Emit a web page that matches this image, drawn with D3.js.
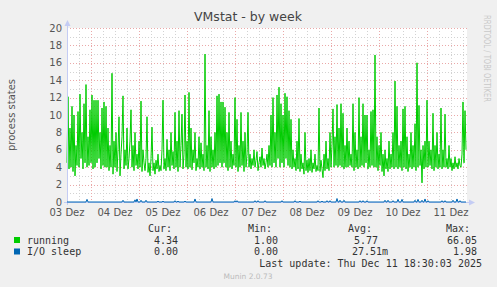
<!DOCTYPE html>
<html>
<head>
<meta charset="utf-8">
<script src="https://cdn.jsdelivr.net/npm/d3@7"></script>
<style>
  body { margin: 0; background: #f0f0f0; }
  svg { display: block; }
</style>
</head>
<body>
<svg id="chart"></svg>
<script>
// half-hourly samples starting 03 Dez 12:00 (UTC)
const running = [
  4.5, 12.1, 3.8, 8.5, 4.0, 11.0, 3.5, 10.0, 3.0, 6.5, 4.2, 10.4, 4.0, 12.4, 5.0, 8.0, 3.8, 11.3, 4.5, 13.5,
  4.0, 7.5, 4.2, 10.6, 4.5, 12.3, 3.8, 11.7, 4.0, 11.7, 4.5, 11.7, 5.0, 8.0, 3.8, 10.8, 4.2, 11.5, 4.0, 11.0,
  4.0, 8.5, 3.6, 6.5, 4.0, 14.8, 3.2, 7.0, 4.0, 8.0, 3.5, 6.0, 9.8, 3.0, 5.5, 7.5, 12.2, 3.8, 6.0, 4.2,
  8.5, 3.8, 5.0, 7.0, 10.6, 4.0, 6.5, 3.6, 8.0, 4.2, 5.5, 3.8, 7.0, 4.0, 11.6, 3.5, 6.0, 4.5, 3.6, 5.0,
  9.8, 3.4, 4.5, 3.0, 5.0, 8.6, 3.6, 4.5, 3.2, 4.8, 3.8, 5.5, 3.5, 4.2, 3.6, 6.0, 11.7, 3.8, 5.0, 3.6,
  7.2, 4.0, 6.0, 3.6, 8.0, 4.2, 5.8, 3.8, 10.3, 4.0, 7.0, 3.5, 10.5, 4.0, 6.5, 10.1, 3.8, 5.5, 12.3, 4.0,
  7.0, 3.8, 12.6, 4.0, 8.5, 3.7, 6.0, 4.5, 8.0, 3.6, 5.0, 4.0, 7.5, 3.8, 6.8, 4.0, 5.5, 3.6, 17.0, 4.0,
  6.5, 3.8, 10.5, 3.5, 7.5, 4.0, 6.0, 3.8, 8.0, 4.0, 12.2, 4.2, 12.4, 4.5, 11.5, 4.0, 11.5, 4.5, 10.9, 4.0,
  8.0, 3.6, 10.3, 4.0, 7.0, 3.8, 5.5, 4.2, 12.0, 4.0, 9.5, 3.5, 6.5, 4.0, 10.3, 4.2, 7.0, 3.5, 8.0, 4.0,
  5.5, 10.3, 4.0, 5.5, 3.8, 5.0, 4.2, 6.0, 4.0, 4.8, 5.8, 3.6, 4.5, 5.2, 4.0, 6.2, 4.2, 5.0, 3.8, 4.5,
  5.5, 4.0, 6.5, 4.2, 10.0, 4.0, 12.0, 4.5, 8.0, 4.0, 12.3, 5.0, 13.2, 4.0, 11.3, 4.5, 10.0, 4.0, 12.5, 5.0,
  12.1, 4.2, 10.5, 4.0, 9.5, 3.8, 6.0, 4.0, 5.0, 3.6, 7.0, 3.8, 9.6, 3.5, 5.5, 3.8, 4.5, 3.2, 8.0, 3.6,
  4.8, 3.4, 5.0, 3.6, 6.0, 3.4, 4.5, 3.8, 5.5, 3.5, 4.2, 3.6, 10.8, 3.5, 4.8, 3.8, 2.8, 5.5, 3.6, 7.0,
  3.8, 5.0, 3.6, 8.0, 4.0, 6.5, 10.7, 4.0, 7.5, 4.2, 11.2, 4.0, 8.5, 4.2, 11.3, 4.0, 10.2, 3.8, 6.5, 4.0,
  8.5, 4.0, 7.0, 4.2, 5.5, 4.0, 11.3, 3.6, 8.0, 4.0, 6.0, 3.8, 12.0, 4.0, 7.5, 4.2, 11.3, 4.0, 10.0, 4.5,
  10.0, 3.8, 6.0, 4.0, 10.4, 4.2, 10.6, 4.0, 16.9, 4.0, 7.5, 3.6, 6.5, 4.2, 8.0, 3.5, 5.5, 3.0, 6.0, 3.8,
  5.0, 3.5, 7.0, 3.8, 5.5, 4.0, 8.0, 3.8, 13.9, 4.0, 11.0, 3.8, 6.5, 4.0, 7.0, 3.6, 10.7, 4.0, 11.0, 3.8,
  7.5, 3.5, 5.5, 4.0, 8.0, 3.8, 6.5, 4.0, 9.0, 3.6, 16.0, 4.0, 11.1, 4.2, 6.0, 2.2, 6.5, 3.8, 7.0, 4.0,
  11.7, 4.0, 7.0, 4.2, 6.0, 3.8, 10.2, 3.6, 6.5, 4.0, 8.0, 3.8, 5.5, 4.0, 10.8, 3.8, 6.0, 4.0, 10.1, 4.0,
  5.0, 3.8, 6.5, 4.0, 5.0, 3.6, 4.5, 3.8, 5.2, 4.0, 4.5, 3.8, 5.0, 4.2, 4.0, 5.5, 11.5, 4.5, 10.5, 6.0
];

const ioSleep = [
  0, 0, 0, 0, 0, 0, 0, 0, 0, 0, 0, 0, 0, 0, 0, 0, 0, 0, 0, 0,
  0.3, 0, 0, 0, 0, 0, 0, 0, 0, 0, 0, 0, 0, 0, 0, 0, 0, 0, 0, 0,
  0, 0, 0, 0, 0, 0, 0, 0, 0, 0, 0, 0, 0, 0, 0, 0, 0.2, 0, 0, 0,
  0, 0, 0, 0, 0, 0, 0, 0, 0.25, 0, 0.35, 0, 0, 0, 0.2, 0, 0, 0, 0, 0.2,
  0, 0, 0, 0, 0, 0, 0, 0, 0, 0, 0, 0.1, 0, 0, 0, 0, 0.1, 0, 0, 0,
  0, 0, 0, 0, 0, 0, 0, 0, 0.15, 0, 0, 0.1, 0, 0, 0, 0, 0, 0, 0.1, 0,
  0, 0, 0, 0, 0, 0, 0, 0, 0.35, 0, 0, 0, 0, 0, 0, 0, 0, 0, 0, 0,
  0, 0, 0, 0, 0, 0.4, 0, 0, 0, 0, 0, 0, 0, 0, 0, 0, 0, 0, 0, 0,
  0, 0, 0, 0, 0, 0, 0, 0, 0.15, 0, 0.15, 0, 0, 0, 0, 0, 0, 0, 0, 0,
  0, 0, 0, 0, 0, 0, 0, 0, 0.15, 0, 0, 0.15, 0, 0, 0, 0, 0, 0, 0.15, 0,
  0, 0, 0, 0, 0, 0, 0, 0, 0, 0, 0, 0, 0, 0, 0, 0.15, 0, 0, 0, 0,
  0, 0, 0, 0, 0, 0, 0, 0, 0.15, 0, 0, 0, 0, 0.1, 0, 0, 0, 0, 0, 0,
  0, 0, 0, 0, 0, 0, 0, 0, 0, 0, 0, 0.15, 0, 0, 0, 0.1, 0, 0, 0, 0,
  0.15, 0, 0, 0.15, 0, 0, 0, 0, 0, 0, 0.4, 0, 0, 0.2, 0, 0, 0, 0.2, 0, 0,
  0, 0, 0, 0, 0, 0, 0, 0, 0, 0, 0, 0, 0, 0.15, 0, 0, 0.15, 0, 0, 0,
  0.15, 0, 0, 0, 0, 0, 0, 0, 0, 0, 0, 0, 0, 0, 0, 0, 0, 0, 0.2, 0,
  0, 0.2, 0, 0, 0, 0, 0.15, 0, 0, 0, 0, 0.3, 0, 0, 0, 0.3, 0, 0, 0, 0,
  0, 0, 0, 0, 0, 0, 0, 0, 0.2, 0, 0, 0.3, 0, 0, 0, 0.2, 0, 0, 0.35, 0,
  0, 0.15, 0, 0, 0, 0, 0, 0, 0, 0, 0, 0, 0, 0, 0, 0.15, 0, 0, 0.15, 0,
  0, 0, 0, 0, 0, 0, 0.2, 0, 0, 0, 0.35, 0, 0, 0.15, 0, 0, 0, 0, 0, 0
];

const dayLabels = ["03 Dez", "04 Dez", "05 Dez", "06 Dez", "07 Dez", "08 Dez", "09 Dez", "10 Dez", "11 Dez"];
const yTicks = [0, 2, 4, 6, 8, 10, 12, 14, 16, 18, 20];

const seriesNames = ["running", "I/O sleep"];
const seriesColors = ["#00cc00", "#0066b3"];
const curValues = ["4.34", "0.00"];
const minValues = ["1.00", "0.00"];
const avgValues = ["5.77", "27.51m"];
const maxValues = ["66.05", "1.98"];

const step = 30 * 60 * 1000;
const startTime = Date.UTC(2025, 11, 3, 12);
const endTime = startTime + 400 * step;

const dimensions = {
    width: 497,
    height: 287,
    margin: { top: 28, right: 30, bottom: 85, left: 67 }
};
const plotW = 400;
const plotBottom = 202;

var svg = d3.select("#chart")
    .attr("width", dimensions.width)
    .attr("height", dimensions.height)
    .style("font-family", "'DejaVu Sans', sans-serif");

svg.append("rect")
    .attr("width", dimensions.width)
    .attr("height", dimensions.height)
    .attr("fill", "#f0f0f0");

var xScale = d3.scaleUtc()
    .domain([startTime, endTime])
    .range([dimensions.margin.left, dimensions.margin.left + plotW]);

var yScale = d3.scaleLinear()
    .domain([0, 20])
    .range([plotBottom, dimensions.margin.top]);

// plot canvas
svg.append("rect")
    .attr("x", dimensions.margin.left)
    .attr("y", dimensions.margin.top)
    .attr("width", plotW)
    .attr("height", plotBottom - dimensions.margin.top)
    .attr("fill", "#ffffff");

// grid
const grid = svg.append("g").attr("shape-rendering", "crispEdges");
const minorX = d3.utcHour.every(6).range(new Date(startTime), new Date(endTime));
const majorX = d3.utcDay.range(new Date(startTime), new Date(endTime));
const minorColor = "#d2d2d2";
const majorColor = "#eaa8a8";

grid.selectAll(".vminor")
    .data(minorX.filter(t => t.getUTCHours() !== 0))
    .enter().append("line")
    .attr("x1", d => Math.round(xScale(d)) + 0.5)
    .attr("x2", d => Math.round(xScale(d)) + 0.5)
    .attr("y1", dimensions.margin.top)
    .attr("y2", plotBottom)
    .attr("stroke", minorColor)
    .attr("stroke-dasharray", "1,2");

grid.selectAll(".hminor")
    .data(d3.range(1, 20, 2))
    .enter().append("line")
    .attr("x1", dimensions.margin.left)
    .attr("x2", dimensions.margin.left + plotW)
    .attr("y1", d => Math.round(yScale(d)) + 0.5)
    .attr("y2", d => Math.round(yScale(d)) + 0.5)
    .attr("stroke", minorColor)
    .attr("stroke-dasharray", "1,2");

grid.selectAll(".vmajor")
    .data(majorX)
    .enter().append("line")
    .attr("x1", d => Math.round(xScale(d)) + 0.5)
    .attr("x2", d => Math.round(xScale(d)) + 0.5)
    .attr("y1", dimensions.margin.top)
    .attr("y2", plotBottom)
    .attr("stroke", majorColor)
    .attr("stroke-dasharray", "1,2");

grid.selectAll(".hmajor")
    .data(yTicks.slice(1))
    .enter().append("line")
    .attr("x1", dimensions.margin.left)
    .attr("x2", dimensions.margin.left + plotW)
    .attr("y1", d => Math.round(yScale(d)) + 0.5)
    .attr("y2", d => Math.round(yScale(d)) + 0.5)
    .attr("stroke", majorColor)
    .attr("stroke-dasharray", "1,2");

// y tick labels
svg.append("g")
    .selectAll("text")
    .data(yTicks)
    .enter().append("text")
    .attr("x", 62)
    .attr("y", d => yScale(d) + 3.5)
    .attr("text-anchor", "end")
    .attr("font-size", "10px")
    .attr("fill", "#555")
    .text(d => d);

// x tick labels, centred on noon
svg.append("g")
    .selectAll("text")
    .data(dayLabels)
    .enter().append("text")
    .attr("x", (d, i) => xScale(Date.UTC(2025, 11, 3 + i, 12)))
    .attr("y", 216)
    .attr("text-anchor", "middle")
    .attr("font-size", "10px")
    .attr("fill", "#555")
    .text(d => d);

// lines
var line = d3.line()
    .x((d, i) => xScale(startTime + i * step))
    .y(d => yScale(d));

svg.append("path")
    .datum(running)
    .attr("d", line)
    .attr("fill", "none")
    .attr("stroke", seriesColors[0])
    .attr("stroke-width", 1);

// axes with arrows
const axisColor = "#c4ccf4";
svg.append("line")
    .attr("x1", dimensions.margin.left + 0.5).attr("x2", dimensions.margin.left + 0.5)
    .attr("y1", plotBottom + 3).attr("y2", 24)
    .attr("stroke", axisColor);
svg.append("path")
    .attr("d", `M${dimensions.margin.left - 2.5},26 L${dimensions.margin.left + 3.5},26 L${dimensions.margin.left + 0.5},20 Z`)
    .attr("fill", axisColor);
svg.append("line")
    .attr("x1", dimensions.margin.left - 3).attr("x2", dimensions.margin.left + plotW + 3)
    .attr("y1", plotBottom + 0.5).attr("y2", plotBottom + 0.5)
    .attr("stroke", axisColor);
svg.append("path")
    .attr("d", `M${dimensions.margin.left + plotW + 2},${plotBottom - 2.5} L${dimensions.margin.left + plotW + 2},${plotBottom + 3.5} L${dimensions.margin.left + plotW + 8},${plotBottom + 0.5} Z`)
    .attr("fill", axisColor);

svg.append("path")
    .datum(ioSleep)
    .attr("d", line)
    .attr("fill", "none")
    .attr("stroke", seriesColors[1])
    .attr("stroke-width", 1);

// title
svg.append("text")
    .attr("x", 248)
    .attr("y", 21)
    .attr("text-anchor", "middle")
    .attr("font-size", "12.5px")
    .attr("fill", "#444")
    .text("VMstat - by week");

svg.append("text")
    .attr("transform", "translate(15,115) rotate(-90)")
    .attr("text-anchor", "middle")
    .attr("font-size", "10px")
    .attr("fill", "#555")
    .text("process states");

svg.append("text")
    .attr("transform", "translate(484,15) rotate(90)")
    .attr("text-anchor", "start")
    .attr("font-size", "8px")
    .attr("textLength", 87)
    .attr("lengthAdjust", "spacingAndGlyphs")
    .attr("fill", "#c8c8c8")
    .text("RRDTOOL / TOBI OETIKER");

// legend
const legend = svg.append("g")
    .style("font-family", "'DejaVu Sans Mono', monospace")
    .attr("font-size", "10px")
    .attr("fill", "#333");

const headers = [["Cur:", 172], ["Min:", 272], ["Avg:", 372], ["Max:", 470]];
legend.selectAll(".hdr")
    .data(headers)
    .enter().append("text")
    .attr("x", d => d[1])
    .attr("y", 231.5)
    .attr("text-anchor", "end")
    .text(d => d[0]);

const rows = legend.selectAll(".row")
    .data(seriesNames)
    .enter().append("g")
    .attr("transform", (d, i) => `translate(0, ${243.5 + i * 11.5})`);

rows.append("rect")
    .attr("x", 14).attr("y", -6.5)
    .attr("width", 6).attr("height", 6)
    .attr("fill", (d, i) => seriesColors[i]);

rows.append("text").attr("x", 27).text(d => d);
rows.append("text").attr("x", 178).attr("text-anchor", "end").text((d, i) => curValues[i]);
rows.append("text").attr("x", 278).attr("text-anchor", "end").text((d, i) => minValues[i]);
rows.append("text").attr("x", (d, i) => avgValues[i].endsWith("m") ? 388 : 378)
    .attr("text-anchor", "end").text((d, i) => avgValues[i]);
rows.append("text").attr("x", 477).attr("text-anchor", "end").text((d, i) => maxValues[i]);

legend.append("text")
    .attr("x", 482)
    .attr("y", 266.5)
    .attr("text-anchor", "end")
    .text("Last update: Thu Dec 11 18:30:03 2025");

svg.append("text")
    .attr("x", 248)
    .attr("y", 279)
    .attr("text-anchor", "middle")
    .attr("font-size", "7.5px")
    .attr("fill", "#bbb")
    .text("Munin 2.0.73");
</script>
</body>
</html>
